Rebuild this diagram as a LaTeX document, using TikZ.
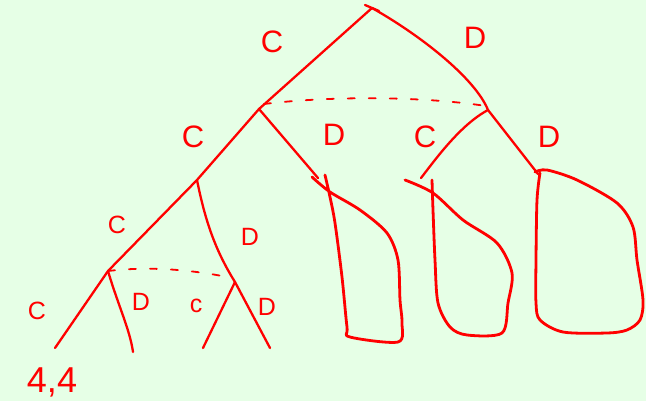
\documentclass[tikz,border=0pt]{standalone}
\usepackage{fontspec}
\setmainfont{Liberation Sans}
\usepackage{tikz}
\usetikzlibrary{arrows.meta,positioning,calc}
\definecolor{paper}{RGB}{230,255,230}
\definecolor{ink}{RGB}{255,0,0}

\begin{document}
\begin{tikzpicture}[x=1pt, y=-1pt,
  branch/.style={draw=ink, line width=2.3pt, line cap=round},
  infoset/.style={draw=ink, line width=1.8pt, line cap=round, dash pattern=on 7pt off 14pt},
  blob/.style={draw=ink, line width=2.8pt, line cap=round, line join=round},
  move/.style={text=ink, inner sep=0pt, font=\fontsize{31}{31}\selectfont},
  smallmove/.style={text=ink, inner sep=0pt, font=\fontsize{25}{25}\selectfont}]
  \fill[paper] (0,0) rectangle (646,401);
  \useasboundingbox (0,0) rectangle (646,401);

  \coordinate (root) at (372,8);
  \coordinate (p2l) at (259,109);
  \coordinate (p2r) at (488,110);
  \coordinate (p1l) at (197,180);
  \coordinate (xld) at (318,178);
  \coordinate (xrc) at (421,178);
  \coordinate (xrd) at (538,174);
  \coordinate (p2a) at (108,271);
  \coordinate (p2b) at (235,282);
  \coordinate (cc) at (55,348);
  \coordinate (cd) at (133,352);
  \coordinate (dc) at (203,348);
  \coordinate (dd) at (270,348);

  \draw[branch] (365,5) -- (379,11);
  \draw[branch] (root) -- (p2l);
  \draw[branch] (root) .. controls (420,35) and (475,78) .. (p2r);
  \draw[infoset] (264,104) .. controls (330,96) and (420,96) .. (486,106);

  \draw[branch] (p2l) -- (p1l);
  \draw[branch] (p2l) -- (xld);
  \draw[branch] (p2r) .. controls (460,125) and (435,160) .. (xrc);
  \draw[branch] (p2r) -- (xrd);

  \draw[branch] (p1l) -- (p2a);
  \draw[branch] (p1l) .. controls (205,220) and (215,250) .. (p2b);
  \draw[infoset] (p2a) .. controls (150,266) and (190,270) .. (222,276);

  \draw[branch] (p2a) -- (cc);
  \draw[branch] (p2a) .. controls (118,305) and (130,330) .. (cd);
  \draw[branch] (p2b) -- (dc);
  \draw[branch] (p2b) -- (dd);

  \node[move] (lc) at (272,42) {C};
  \node[move] (ld) at (475,38) {D};
  \node[move] (llc) at (193,137) {C};
  \node[move] (lld) at (334,135) {D};
  \node[move] (lrc) at (425,137) {C};
  \node[move] (lrd) at (549,137) {D};
  \node[smallmove] (mc) at (117,225) {C};
  \node[smallmove] (md) at (250,237) {D};
  \node[smallmove] (bcc) at (37,311) {C};
  \node[smallmove] (bcd) at (141,302) {D};
  \node[smallmove] (bdc) at (196,306) {c};
  \node[smallmove] (bdd) at (267,307) {D};
  \node[text=ink, inner sep=0pt, font=\fontsize{36}{36}\selectfont] (pay) at (52,382) {4,4};

  \draw[blob] plot[smooth] coordinates {(312,177) (330,192) (360,210) (387,233) (398,260) (400,300) (402,323) (398,342) (350,337) (347,327) (342,277) (335,223) (330,197) (325,175)};
  \draw[blob] plot[smooth] coordinates {(405,180) (433,193) (463,220) (497,243) (512,273) (508,303) (502,333) (467,335) (450,327) (438,303) (435,260) (433,210) (432,180)};
  \draw[blob] plot[smooth] coordinates {(535,172) (547,170) (577,180) (617,203) (633,227) (637,260) (643,300) (640,320) (627,330) (607,333) (563,332) (540,320) (536,303) (536,260) (537,200) (540,173)};
\end{tikzpicture}
\end{document}
